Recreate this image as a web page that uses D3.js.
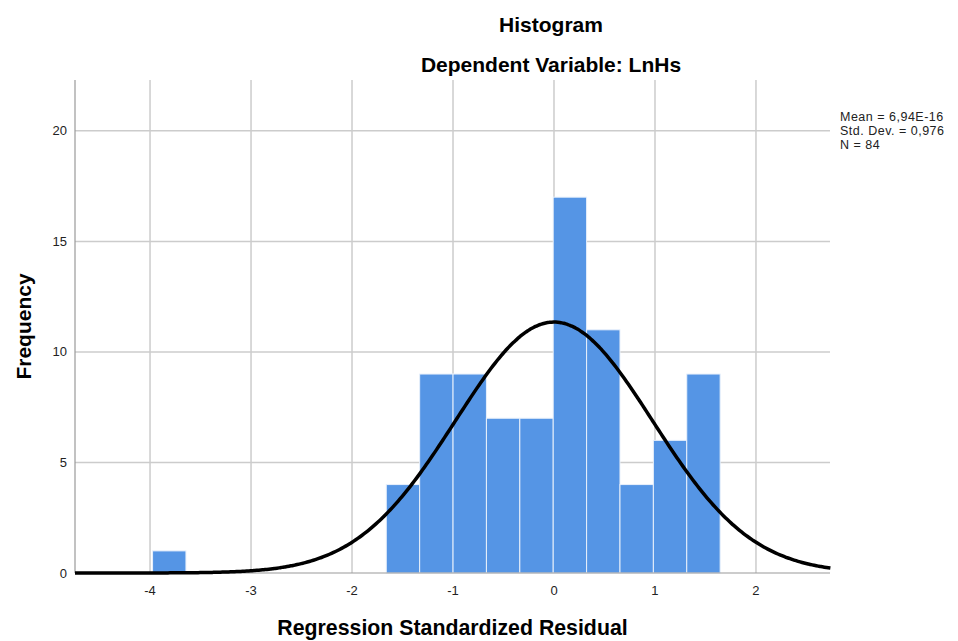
<!DOCTYPE html>
<html lang="en">
<head>
<meta charset="UTF-8">
<script src="https://d3js.org/d3.v7.min.js"></script>
<style>
    body { margin: 0; background: white; }
    text { font-family: "Liberation Sans", Arial, sans-serif; }
</style>
</head>
<body>
<div id="chart"></div>
<script>
    // histogram bins (start, width) and counts
    var binStart = -3.975;
    var binWidth = 0.3306;
    var counts = [1, 0, 0, 0, 0, 0, 0, 4, 9, 9, 7, 7, 17, 11, 4, 6, 9];
    var xTicks = [-4, -3, -2, -1, 0, 1, 2];
    var yTicks = [0, 5, 10, 15, 20];
    var statLines = ["Mean = 6,94E-16", "Std. Dev. = 0,976", "N = 84"];
    var mean = 6.94e-16, sd = 0.976, n = 84;

    var svg = d3.select("#chart").append("svg")
        .attr("width", 958)
        .attr("height", 641);

    var plotLeft = 75, plotRight = 830, plotTop = 80, plotBottom = 573;

    var xScale = d3.scaleLinear().domain([-4.743, 2.733]).range([plotLeft, plotRight]);
    var yScale = d3.scaleLinear().domain([0, 22.3]).range([plotBottom, plotTop]);

    // grid
    svg.append("g").selectAll("line").data(yTicks.slice(1)).enter().append("line")
        .attr("x1", plotLeft).attr("x2", plotRight)
        .attr("y1", d => yScale(d)).attr("y2", d => yScale(d))
        .attr("stroke", "#cccccc").attr("stroke-width", 1.5);
    svg.append("g").selectAll("line").data(xTicks).enter().append("line")
        .attr("x1", d => xScale(d)).attr("x2", d => xScale(d))
        .attr("y1", plotTop).attr("y2", plotBottom)
        .attr("stroke", "#cccccc").attr("stroke-width", 1.5);

    // bars
    var bins = counts.map(function(c, i) {
        return {x0: binStart + i * binWidth, x1: binStart + (i + 1) * binWidth, c: c};
    }).filter(d => d.c > 0);
    svg.append("g").selectAll("rect").data(bins).enter().append("rect")
        .attr("x", d => xScale(d.x0))
        .attr("width", d => xScale(d.x1) - xScale(d.x0))
        .attr("y", d => yScale(d.c))
        .attr("height", d => yScale(0) - yScale(d.c))
        .attr("fill", "#5595e5")
        .attr("stroke", "#e8f0fb")
        .attr("stroke-width", 1);

    // axis lines
    svg.append("line").attr("x1", plotLeft).attr("x2", plotLeft).attr("y1", plotTop).attr("y2", plotBottom)
        .attr("stroke", "#999").attr("stroke-width", 1.2);
    svg.append("line").attr("x1", plotLeft).attr("x2", plotRight).attr("y1", plotBottom).attr("y2", plotBottom)
        .attr("stroke", "#999").attr("stroke-width", 1.2);

    // normal curve
    var pts = d3.range(-4.743, 2.74, 0.02).map(function(x) {
        var z = (x - mean) / sd;
        return [x, n * binWidth * Math.exp(-0.5 * z * z) / (sd * Math.sqrt(2 * Math.PI))];
    });
    svg.append("path").datum(pts)
        .attr("d", d3.line().x(d => xScale(d[0])).y(d => yScale(d[1])).curve(d3.curveBasis))
        .attr("fill", "none").attr("stroke", "black").attr("stroke-width", 3.5);

    // tick labels
    svg.append("g").selectAll("text").data(xTicks).enter().append("text")
        .attr("x", d => xScale(d)).attr("y", 595)
        .attr("text-anchor", "middle").attr("font-size", "13px").attr("fill", "#222")
        .text(d => d);
    svg.append("g").selectAll("text").data(yTicks).enter().append("text")
        .attr("x", 67).attr("y", d => yScale(d)).attr("dy", "0.35em")
        .attr("text-anchor", "end").attr("font-size", "13px").attr("fill", "#222")
        .text(d => d);

    // titles
    svg.append("text").attr("x", 551).attr("y", 32).attr("text-anchor", "middle")
        .attr("font-size", "21px").attr("font-weight", "bold").text("Histogram");
    svg.append("text").attr("x", 551).attr("y", 72).attr("text-anchor", "middle")
        .attr("font-size", "21px").attr("font-weight", "bold").text("Dependent Variable: LnHs");
    svg.append("text").attr("x", (plotLeft + plotRight) / 2).attr("y", 635).attr("text-anchor", "middle")
        .attr("font-size", "21.3px").attr("font-weight", "bold").text("Regression Standardized Residual");
    svg.append("text").attr("transform", "translate(31," + ((plotTop + plotBottom) / 2) + ") rotate(-90)")
        .attr("text-anchor", "middle")
        .attr("font-size", "21px").attr("font-weight", "bold").text("Frequency");

    // stats box
    svg.append("g").selectAll("text").data(statLines).enter().append("text")
        .attr("x", 840).attr("y", (d, i) => 121 + i * 14)
        .attr("font-size", "12.5px").attr("letter-spacing", "0.5px").attr("fill", "#222")
        .text(d => d);
</script>
</body>
</html>
